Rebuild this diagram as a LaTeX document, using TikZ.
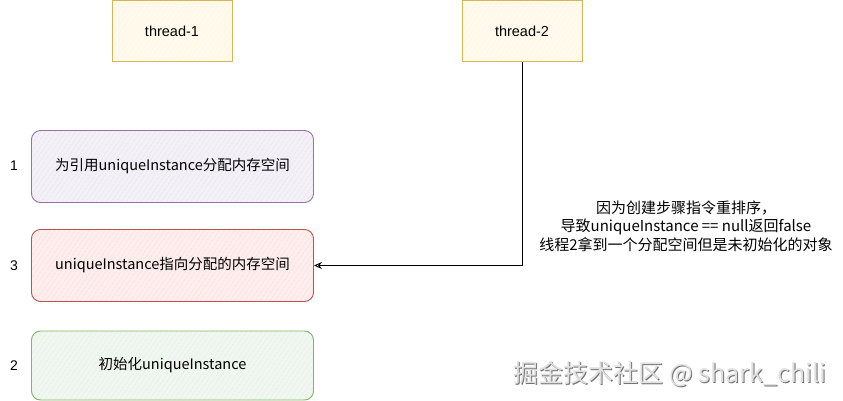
\documentclass[tikz,border=0pt]{standalone}
\usepackage{fontspec}
\setmainfont{Liberation Sans}
\newfontfamily\cjk{Noto Sans CJK SC}
\usetikzlibrary{patterns.meta,arrows.meta}
\definecolor{ystroke}{HTML}{D6B656}
\definecolor{yfill}{HTML}{FFF2CC}
\definecolor{pstroke}{HTML}{9673A6}
\definecolor{pfill}{HTML}{E1D5E7}
\definecolor{rstroke}{HTML}{B85450}
\definecolor{rfill}{HTML}{F8CECC}
\definecolor{gstroke}{HTML}{82B366}
\definecolor{gfill}{HTML}{D5E8D4}
\tikzset{
  hatch/.style 2 args={draw=#1, line width=0.9pt,
    preaction={fill=#2!35},
    pattern={Lines[angle=55,distance=4pt,line width=0.5pt]}, pattern color=#2},
  threadbox/.style={hatch={ystroke}{yfill}, minimum width=120pt, minimum height=61pt,
    font=\fontsize{14.5}{17}\selectfont, inner sep=0pt},
  stepbox/.style 2 args={hatch={#1}{#2}, rounded corners=9pt, minimum width=282pt,
    minimum height=72pt, font=\cjk\fontsize{14.5}{17}\selectfont, inner sep=0pt},
  numlabel/.style={font=\fontsize{14}{16}\selectfont},
  note/.style={font=\cjk\fontsize{15}{18.5}\selectfont, align=center},
  wmark/.style={font=\cjk\fontsize{25}{28}\selectfont},
}
\begin{document}
\begin{tikzpicture}[x=1pt,y=-1pt]
\useasboundingbox (0,0) rectangle (843,401);
\node[threadbox] (t1) at (172,31) {thread-1};
\node[threadbox] (t2) at (522,31) {thread-2};
\node[stepbox={pstroke}{pfill}] (b1) at (172.5,166.5) {为引用uniqueInstance分配内存空间};
\node[stepbox={rstroke}{rfill}] (b3) at (172.5,265.5) {uniqueInstance指向分配的内存空间};
\node[stepbox={gstroke}{gfill}, minimum height=69pt] (b2) at (172.5,365.5) {初始化uniqueInstance};
\node[numlabel] (n1) at (14,166) {1};
\node[numlabel] (n3) at (14,266) {3};
\node[numlabel] (n2) at (14,366) {2};
\draw[line width=0.9pt, -{Stealth[open,length=8pt,width=7pt]}] (t2.south) |- (b3.east);
\node[note] (txt) at (686,226) {因为创建步骤指令重排序，\\导致uniqueInstance == null返回false\\线程2拿到一个分配空间但是未初始化的对象};
\node[wmark, text=black!55] (wms) at (671,375) {掘金技术社区 @ shark\_chili};
\node[wmark, text=black!12] (wm) at (670,374) {掘金技术社区 @ shark\_chili};
\end{tikzpicture}
\end{document}
